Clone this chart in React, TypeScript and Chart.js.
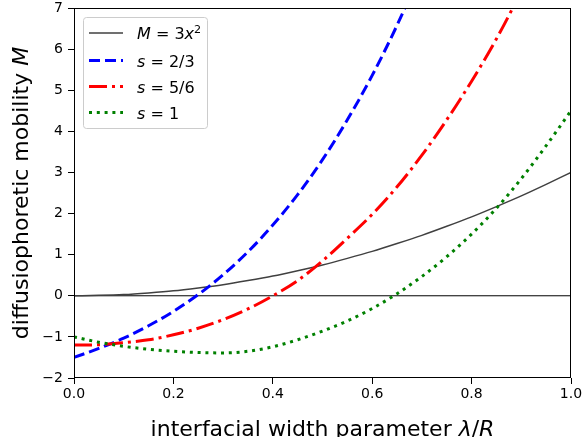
import { useEffect, useRef } from "react";
import { Chart, registerables } from "chart.js";

Chart.register(...registerables);

const xValues = [0, 0.05, 0.1, 0.15, 0.2, 0.25, 0.3, 0.35, 0.4, 0.45, 0.5, 0.55, 0.6, 0.65, 0.7, 0.75, 0.8, 0.85, 0.9, 0.95, 1.0];
const parabolaValues = [0, 0.01, 0.03, 0.07, 0.12, 0.19, 0.27, 0.37, 0.48, 0.61, 0.75, 0.91, 1.08, 1.27, 1.47, 1.69, 1.92, 2.17, 2.43, 2.71, 3.0];
const s23Values = [-1.5, -1.28, -1.03, -0.73, -0.38, 0.03, 0.51, 1.07, 1.72, 2.46, 3.31, 4.28, 5.36, 6.58, 7.94];
const s56Values = [-1.2, -1.19, -1.14, -1.07, -0.95, -0.79, -0.58, -0.32, 0.0, 0.37, 0.85, 1.4, 1.98, 2.65, 3.42, 4.28, 5.22, 6.25, 7.4];
const s1Values = [-1.0, -1.13, -1.23, -1.3, -1.35, -1.38, -1.39, -1.35, -1.24, -1.07, -0.86, -0.61, -0.31, 0.05, 0.47, 0.95, 1.5, 2.13, 2.85, 3.65, 4.5];
const zeroLineX = [0, 1];
const xTicks = [0, 0.2, 0.4, 0.6, 0.8, 1.0];
const yTicks = [-2, -1, 0, 1, 2, 3, 4, 5, 6, 7];

const FONT = "DejaVu Sans";

type Seg = { t: string; i?: boolean; sup?: boolean };

const legendEntries: { segs: Seg[]; color: string; width: number; dash: number[] }[] = [
  { segs: [{ t: "M", i: true }, { t: " = 3" }, { t: "x", i: true }, { t: "2", sup: true }], color: "#404040", width: 1.5, dash: [] },
  { segs: [{ t: "s", i: true }, { t: " = 2/3" }], color: "#0000ff", width: 3, dash: [11, 5] },
  { segs: [{ t: "s", i: true }, { t: " = 5/6" }], color: "#ff0000", width: 3, dash: [18, 5, 3, 5] },
  { segs: [{ t: "s", i: true }, { t: " = 1" }], color: "#008000", width: 3, dash: [3, 4.8] },
];

const xTitle: Seg[] = [{ t: "interfacial width parameter " }, { t: "λ", i: true }, { t: "/" }, { t: "R", i: true }];
const yTitle: Seg[] = [{ t: "diffusiophoretic mobility " }, { t: "M", i: true }];

function segFont(s: Seg, size: number) {
  const sz = s.sup ? size * 0.7 : size;
  return `${s.i ? "italic " : ""}${sz}px "${FONT}"`;
}

function measureSegs(ctx: CanvasRenderingContext2D, segs: Seg[], size: number) {
  let w = 0;
  for (const s of segs) {
    ctx.font = segFont(s, size);
    w += ctx.measureText(s.t).width;
  }
  return w;
}

function drawSegs(ctx: CanvasRenderingContext2D, segs: Seg[], x: number, y: number, size: number) {
  let cx = x;
  ctx.textBaseline = "alphabetic";
  ctx.textAlign = "left";
  for (const s of segs) {
    ctx.font = segFont(s, size);
    ctx.fillText(s.t, cx, s.sup ? y - size * 0.4 : y);
    cx += ctx.measureText(s.t).width;
  }
}

const decorPlugin = {
  id: "decor",
  afterDraw(chart: any) {
    const ctx: CanvasRenderingContext2D = chart.ctx;
    const a = chart.chartArea;
    ctx.save();
    // frame
    ctx.strokeStyle = "#000";
    ctx.lineWidth = 1;
    ctx.setLineDash([]);
    const l = Math.round(a.left) + 0.5;
    const r = Math.round(a.right) - 0.5;
    const t = Math.round(a.top) + 0.5;
    const b = Math.round(a.bottom) - 0.5;
    ctx.strokeRect(l, t, r - l, b - t);

    // legend
    const bx = 83, by = 17, bw = 124, bh = 111;
    ctx.beginPath();
    (ctx as any).roundRect(bx + 0.5, by + 0.5, bw, bh, 3);
    ctx.fillStyle = "rgba(255,255,255,0.8)";
    ctx.fill();
    ctx.strokeStyle = "#cccccc";
    ctx.stroke();
    const rows = [33, 60.5, 86.5, 112.5];
    legendEntries.forEach((e, k) => {
      const y = rows[k];
      ctx.beginPath();
      ctx.setLineDash(e.dash);
      ctx.lineCap = "butt";
      ctx.strokeStyle = e.color;
      ctx.lineWidth = e.width;
      ctx.moveTo(89, y);
      ctx.lineTo(123, y);
      ctx.stroke();
      ctx.setLineDash([]);
      ctx.fillStyle = "#000";
      drawSegs(ctx, e.segs, 137, y + 6, 16);
    });

    // axis titles
    ctx.fillStyle = "#000";
    const tSize = 22;
    const xw = measureSegs(ctx, xTitle, tSize);
    drawSegs(ctx, xTitle, (a.left + a.right) / 2 - xw / 2, 436, tSize);
    const yw = measureSegs(ctx, yTitle, tSize);
    ctx.save();
    ctx.translate(28, (a.top + a.bottom) / 2);
    ctx.rotate(-Math.PI / 2);
    drawSegs(ctx, yTitle, -yw / 2, 0, tSize);
    ctx.restore();
    ctx.restore();
  },
};

function pts(vals: number[], xs: number[] = xValues) {
  return vals.map((y, i) => ({ x: xs[i], y }));
}

export default function App() {
  const ref = useRef<HTMLCanvasElement | null>(null);
  useEffect(() => {
    if (!ref.current) return;
    const tickFont = { family: FONT, size: 14 };
    const chart = new Chart(ref.current, {
      type: "line",
      data: {
        datasets: [
          { data: pts([0, 0], zeroLineX), borderColor: "#000", borderWidth: 1, order: 5, clip: 0 } as any,
          { data: pts(parabolaValues), borderColor: "#404040", borderWidth: 1.5, order: 4, cubicInterpolationMode: "monotone", clip: 0 },
          { data: pts(s23Values), borderColor: "#0000ff", borderWidth: 3, borderDash: [11, 5], order: 3, cubicInterpolationMode: "monotone", clip: 0 },
          { data: pts(s56Values), borderColor: "#ff0000", borderWidth: 3, borderDash: [18, 5, 3, 5], order: 2, cubicInterpolationMode: "monotone", clip: 0 },
          { data: pts(s1Values), borderColor: "#008000", borderWidth: 3, borderDash: [3, 4.8], order: 1, cubicInterpolationMode: "monotone", clip: 0 },
        ],
      },
      options: {
        animation: false,
        responsive: false,
        devicePixelRatio: 1,
        layout: { padding: { top: 8, right: 11, left: 0, bottom: 0 } },
        elements: { point: { radius: 0 }, line: { borderCapStyle: "butt", fill: false } },
        plugins: { legend: { display: false }, tooltip: { enabled: false } },
        scales: {
          x: {
            type: "linear",
            min: 0,
            max: 1,
            afterBuildTicks: (s: any) => {
              s.ticks = xTicks.map((v) => ({ value: v }));
            },
            afterFit: (s: any) => {
              s.height = 59;
              s.paddingLeft = 0;
              s.paddingRight = 0;
            },
            grid: { display: true, drawOnChartArea: false, drawTicks: true, tickLength: 6, color: "#000", lineWidth: 1 },
            border: { display: false },
            ticks: {
              font: tickFont,
              color: "#000",
              padding: 2,
              maxRotation: 0,
              autoSkip: false,
              callback: (v: any) => Number(v).toFixed(1),
            },
          },
          y: {
            type: "linear",
            min: -2,
            max: 7,
            afterBuildTicks: (s: any) => {
              s.ticks = yTicks.map((v) => ({ value: v }));
            },
            afterFit: (s: any) => {
              s.width = 74;
              s.paddingTop = 0;
              s.paddingBottom = 0;
            },
            grid: { display: true, drawOnChartArea: false, drawTicks: true, tickLength: 6, color: "#000", lineWidth: 1 },
            border: { display: false },
            ticks: {
              font: tickFont,
              color: "#000",
              padding: 5,
              autoSkip: false,
              callback: (v: any) => (Number(v) < 0 ? "\u2212" + Math.abs(Number(v)) : String(v)),
            },
          },
        },
      },
      plugins: [decorPlugin],
    });
    return () => chart.destroy();
  }, []);
  return (
    <canvas
      ref={ref}
      width={582}
      height={437}
      style={{ position: "fixed", left: 0, top: 0, width: 582, height: 437, display: "block", background: "#fff" }}
    />
  );
}
